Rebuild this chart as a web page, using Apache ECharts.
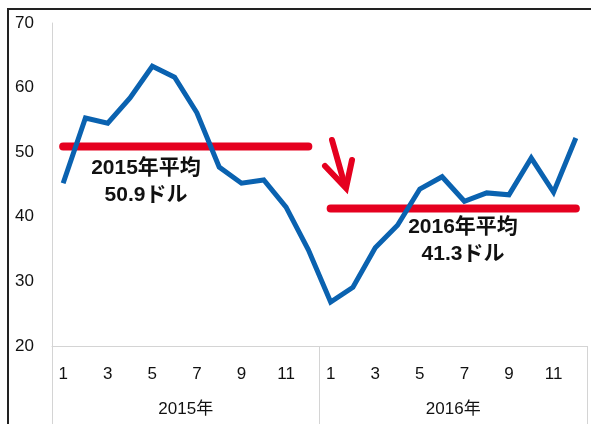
<!DOCTYPE html>
<html>
<head>
<meta charset="utf-8">
<script src="https://cdn.jsdelivr.net/npm/echarts@6/dist/echarts.min.js"></script>
<style>
    html, body { margin: 0; padding: 0; background: #fff; }
    #main { width: 591px; height: 424px; }
</style>
</head>
<body>
<div id="main"></div>
<script>
    // 月ラベル (2年分)
    let months = ['1','2','3','4','5','6','7','8','9','10','11','12',
                  '1','2','3','4','5','6','7','8','9','10','11','12']
    let years = ['2015年', '2016年']
    let prices = [45.2, 55.3, 54.5, 58.4, 63.3, 61.6, 56.1, 47.7, 45.2, 45.7, 41.5, 34.9,
                  26.8, 29.1, 35.2, 38.7, 44.3, 46.2, 42.4, 43.7, 43.4, 49.1, 43.8, 52.2]
    let avg2015 = 50.9
    let avg2016 = 41.3
    let yTicks = [20, 30, 40, 50, 60, 70]

    let avgLine = (v, from, to) => months.map((m, i) => (i >= from && i <= to) ? v : null)

    let font = "'Liberation Sans', 'Noto Sans CJK JP', sans-serif"
    let red = '#E5001F'
    let blue = '#0A62B0'
    let gray = '#d4d4d4'
    let noteFont = 'bold 21px ' + font

    let myChart = echarts.init(document.getElementById('main'))
    myChart.setOption({
        animation: false,
        textStyle: { fontFamily: font },
        grid: { left: 52, right: 4, top: 23, bottom: 78 },
        xAxis: [{
            type: 'category',
            data: months,
            boundaryGap: true,
            axisLine: { lineStyle: { color: gray, width: 1 } },
            axisTick: { show: false },
            axisLabel: { interval: 1, margin: 20, fontSize: 17, color: '#111' }
        }, {
            type: 'category',
            data: years,
            position: 'bottom',
            boundaryGap: true,
            axisLine: { show: false },
            axisTick: { show: true, interval: 0, length: 80, lineStyle: { color: gray } },
            axisLabel: { margin: 55, fontSize: 17, color: '#111' }
        }],
        yAxis: {
            type: 'value',
            min: yTicks[0],
            max: yTicks[yTicks.length - 1],
            interval: 10,
            splitLine: { show: false },
            axisLine: { show: true, lineStyle: { color: gray } },
            axisTick: { show: false },
            axisLabel: { margin: 18, fontSize: 17, color: '#111' }
        },
        series: [{
            type: 'line',
            data: avgLine(avg2015, 0, 11),
            symbol: 'none',
            lineStyle: { color: red, width: 8, cap: 'round' },
            z: 2
        }, {
            type: 'line',
            data: avgLine(avg2016, 12, 23),
            symbol: 'none',
            lineStyle: { color: red, width: 8, cap: 'round' },
            z: 2
        }, {
            type: 'line',
            data: prices,
            symbol: 'none',
            lineStyle: { color: blue, width: 5, join: 'miter' },
            z: 3
        }],
        graphic: [
            // 枠線
            { type: 'polyline', shape: { points: [[8, 424], [8, 9], [591, 9]] },
              style: { stroke: '#222', lineWidth: 2, fill: null } },
            // 注記
            { type: 'text', x: 146, y: 168, style: { text: '2015年平均', font: noteFont, fill: '#111', align: 'center', verticalAlign: 'middle' } },
            { type: 'text', x: 146, y: 195, style: { text: '50.9ドル', font: noteFont, fill: '#111', align: 'center', verticalAlign: 'middle' } },
            { type: 'text', x: 463, y: 227, style: { text: '2016年平均', font: noteFont, fill: '#111', align: 'center', verticalAlign: 'middle' } },
            { type: 'text', x: 463, y: 254, style: { text: '41.3ドル', font: noteFont, fill: '#111', align: 'center', verticalAlign: 'middle' } },
            // 下向き矢印
            { type: 'polyline', shape: { points: [[332, 140], [345, 186]] },
              style: { stroke: red, lineWidth: 6, lineCap: 'round', fill: null } },
            { type: 'polyline', shape: { points: [[325, 166], [346, 188], [352, 160]] },
              style: { stroke: red, lineWidth: 6, lineCap: 'round', lineJoin: 'miter', fill: null } }
        ]
    })
</script>
</body>
</html>
